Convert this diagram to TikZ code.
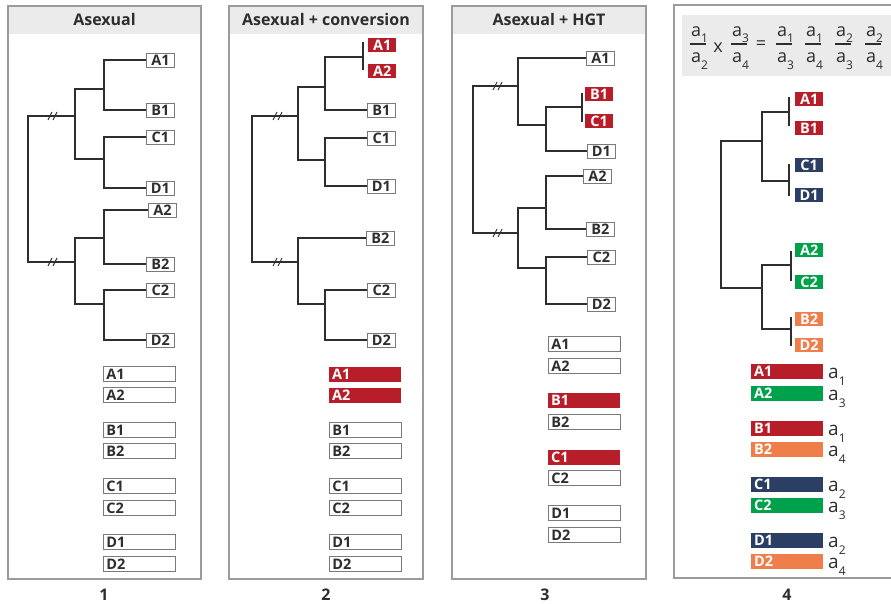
\documentclass[tikz,border=0pt]{standalone}
\usepackage{fontspec}
\setmainfont{Open Sans}
\usetikzlibrary{calc}
\definecolor{cred}{HTML}{B81D2A}
\definecolor{cblue}{HTML}{2B3F64}
\definecolor{cgreen}{HTML}{00A14B}
\definecolor{corange}{HTML}{F07E4B}
\definecolor{framec}{HTML}{9B9B9B}
\definecolor{hdr}{HTML}{EBEBEB}
\definecolor{ink}{HTML}{2E2E2E}
\definecolor{bord}{HTML}{7A7A7A}
\newcommand\slashmark[2]{\draw[ink,line width=0.9pt] ({#1-4},{#2+4}) -- ({#1},{#2-4}) ({#1+1},{#2+4}) -- ({#1+5},{#2-4});}
\newcommand\asub[2]{a\raisebox{-#2pt}{\fontsize{12}{12}\selectfont #1}}
\newcommand\efrac[4]{%
  \node[eqa, anchor=base west] (#1n) at (#2,37) {\asub{#3}{6}};
  \node[eqa, anchor=base west] (#1d) at (#2,63) {\asub{#4}{7}};
  \draw[ink, line width=1.1pt] ({#2-1},44) -- ({#2+15},44);}
\begin{document}
\begin{tikzpicture}[x=1pt,y=-1pt,
  tree/.style={draw=ink, line width=1.4pt},
  lbl/.style={inner sep=0pt, minimum width=28pt, minimum height=14pt, font=\fontsize{14.5}{16}\selectfont\bfseries, text height=10.3pt, text depth=0pt, anchor=west},
  wbox/.style={lbl, draw=bord, line width=0.9pt, fill=white, text=ink},
  cbox/.style={lbl, fill=#1, text=white},
  barb/.style={inner xsep=3pt, inner ysep=0pt, text width=66pt, minimum height=15pt, align=left, font=\fontsize{14.5}{16}\selectfont\bfseries, text height=10.3pt, text depth=0pt, anchor=west},
  wbar/.style={barb, draw=bord, line width=0.9pt, fill=white, text=ink},
  cbar/.style={barb, fill=#1, text=white},
  title/.style={font=\fontsize{16}{18}\selectfont\bfseries, text=ink},
  num/.style={font=\fontsize{16}{18}\selectfont\bfseries, text=ink},
  eqa/.style={inner sep=0pt, font=\fontsize{18}{20}\selectfont, text=ink},
  alab/.style={inner sep=0pt, font=\fontsize{19}{21}\selectfont, text=ink, anchor=base west},
  panel/.style={draw=framec, line width=1.3pt}
]
\useasboundingbox (0,0) rectangle (891,604);
\fill[white] (0,0) rectangle (891,604);

% ---------- frames and headers ----------
\fill[hdr] (8,6) rectangle (201,34);
\fill[hdr] (229,6) rectangle (423,34);
\fill[hdr] (452,6) rectangle (646,34);
\fill[hdr] (682,15) rectangle (895,76);
\draw[panel] (8,6) rectangle (201,579);
\draw[panel] (229,6) rectangle (423,579);
\draw[panel] (452,6) rectangle (646,579);
\draw[panel] (895,5) -- (674,5) -- (674,578) -- (895,578);

\node[title] (t1) at (104.5,20) {Asexual};
\node[title] (t2) at (326,20) {Asexual + conversion};
\node[title] (t3) at (549,20) {Asexual + HGT};
\node[num] (n1) at (104,595) {1};
\node[num] (n2) at (326,595) {2};
\node[num] (n3) at (545,595) {3};
\node[num] (n4) at (787,595) {4};

% ---------- panel 1 ----------
\node[wbox] (p1A1) at (146,60) {A1};
\node[wbox] (p1B1) at (146,110) {B1};
\node[wbox] (p1C1) at (146,137) {C1};
\node[wbox] (p1D1) at (146,188) {D1};
\node[wbox] (p1A2) at (148,210) {A2};
\node[wbox] (p1B2) at (146,264) {B2};
\node[wbox] (p1C2) at (146,290) {C2};
\node[wbox] (p1D2) at (146,340) {D2};
\coordinate (p1j1) at (104,89);
\coordinate (p1j2) at (104,159);
\coordinate (p1j3) at (75,116);
\coordinate (p1j4) at (104,238);
\coordinate (p1j5) at (104,304);
\coordinate (p1j6) at (75,262);
\coordinate (p1r) at (28,190);
\draw[tree] (p1A1.west) -| (p1j1) |- (p1B1.west);
\draw[tree] (p1C1.west) -| (p1j2) |- (p1D1.west);
\draw[tree] (p1j1) -| (p1j3) |- (p1j2);
\draw[tree] (p1A2.west) -| (p1j4) |- (p1B2.west);
\draw[tree] (p1C2.west) -| (p1j5) |- (p1D2.west);
\draw[tree] (p1j4) -| (p1j6) |- (p1j5);
\draw[tree] (p1j3) -| (p1r) |- (p1j6);
\slashmark{52}{116}
\slashmark{52}{262}

\node[wbar] (p1bA1) at (103,374) {A1};
\node[wbar] (p1bA2) at (103,395) {A2};
\node[wbar] (p1bB1) at (103,430) {B1};
\node[wbar] (p1bB2) at (103,451) {B2};
\node[wbar] (p1bC1) at (103,486) {C1};
\node[wbar] (p1bC2) at (103,508) {C2};
\node[wbar] (p1bD1) at (103,542) {D1};
\node[wbar] (p1bD2) at (103,564) {D2};

% ---------- panel 2 ----------
\node[cbox=cred] (p2A1) at (368,45) {A1};
\node[cbox=cred] (p2A2) at (368,71) {A2};
\node[wbox] (p2B1) at (367,110) {B1};
\node[wbox] (p2C1) at (367,138) {C1};
\node[wbox] (p2D1) at (367,186) {D1};
\node[wbox] (p2B2) at (366,238) {B2};
\node[wbox] (p2C2) at (367,290) {C2};
\node[wbox] (p2D2) at (367,340) {D2};
\coordinate (p2tt) at (363,42);
\coordinate (p2tb) at (363,70);
\coordinate (p2tm) at (363,57);
\coordinate (p2j1) at (325,87);
\coordinate (p2j2) at (325,160);
\coordinate (p2j3) at (298,116);
\coordinate (p2j5) at (325,304);
\coordinate (p2j6) at (298,262);
\coordinate (p2r) at (252,190);
\draw[tree] (p2tt) -- (p2tb);
\draw[tree] (p2tm) -| (p2j1) |- (p2B1.west);
\draw[tree] (p2C1.west) -| (p2j2) |- (p2D1.west);
\draw[tree] (p2j1) -| (p2j3) |- (p2j2);
\draw[tree] (p2C2.west) -| (p2j5) |- (p2D2.west);
\draw[tree] (p2B2.west) -| (p2j6) |- (p2j5);
\draw[tree] (p2j3) -| (p2r) |- (p2j6);
\slashmark{277}{116}
\slashmark{277}{262}

\node[cbar=cred] (p2bA1) at (329,374) {A1};
\node[cbar=cred] (p2bA2) at (329,395) {A2};
\node[wbar] (p2bB1) at (329,430) {B1};
\node[wbar] (p2bB2) at (329,451) {B2};
\node[wbar] (p2bC1) at (329,486) {C1};
\node[wbar] (p2bC2) at (329,508) {C2};
\node[wbar] (p2bD1) at (329,542) {D1};
\node[wbar] (p2bD2) at (329,564) {D2};

% ---------- panel 3 ----------
\node[wbox] (p3A1) at (586,58) {A1};
\node[cbox=cred] (p3B1) at (585,94) {B1};
\node[cbox=cred] (p3C1) at (585,121) {C1};
\node[wbox] (p3D1) at (587,151) {D1};
\node[wbox] (p3A2) at (583,176) {A2};
\node[wbox] (p3B2) at (586,229) {B2};
\node[wbox] (p3C2) at (587,257) {C2};
\node[wbox] (p3D2) at (587,304) {D2};
\coordinate (p3tt) at (582,93);
\coordinate (p3tb) at (582,122);
\coordinate (p3tm) at (582,107);
\coordinate (p3j1) at (546,125);
\coordinate (p3j3) at (518,86);
\coordinate (p3j4) at (546,208);
\coordinate (p3j5) at (546,268);
\coordinate (p3j6) at (518,233);
\coordinate (p3r) at (473,160);
\draw[tree] (p3tt) -- (p3tb);
\draw[tree] (p3tm) -| (p3j1) |- (p3D1.west);
\draw[tree] (p3A1.west) -| (p3j3) |- (p3j1);
\draw[tree] (p3A2.west) -| (p3j4) |- (p3B2.west);
\draw[tree] (p3C2.west) -| (p3j5) |- (p3D2.west);
\draw[tree] (p3j4) -| (p3j6) |- (p3j5);
\draw[tree] (p3j3) -| (p3r) |- (p3j6);
\slashmark{497}{86}
\slashmark{497}{233}

\node[wbar] (p3bA1) at (548,344) {A1};
\node[wbar] (p3bA2) at (548,366) {A2};
\node[cbar=cred] (p3bB1) at (548,400) {B1};
\node[wbar] (p3bB2) at (548,422) {B2};
\node[cbar=cred] (p3bC1) at (548,457) {C1};
\node[wbar] (p3bC2) at (548,478) {C2};
\node[wbar] (p3bD1) at (548,513) {D1};
\node[wbar] (p3bD2) at (548,535) {D2};

% ---------- panel 4 ----------
\efrac{f1}{691}{1}{2}
\node[eqa] (fx) at (718,48) {x};
\efrac{f2}{732}{3}{4}
\node[eqa] (feq) at (761,45) {=};
\efrac{f3}{777}{1}{3}
\efrac{f4}{806}{1}{4}
\efrac{f5}{836}{2}{3}
\efrac{f6}{866}{2}{4}

\node[cbox=cred] (p4A1) at (795,99) {A1};
\node[cbox=cred] (p4B1) at (795,128) {B1};
\node[cbox=cblue] (p4C1) at (795,165) {C1};
\node[cbox=cblue] (p4D1) at (795,195) {D1};
\node[cbox=cgreen] (p4A2) at (795,250) {A2};
\node[cbox=cgreen] (p4C2) at (795,282) {C2};
\node[cbox=corange] (p4B2) at (795,319) {B2};
\node[cbox=corange] (p4D2) at (795,345) {D2};
\coordinate (p4t1) at (789,112);
\coordinate (p4t2) at (789,181);
\coordinate (p4t3) at (791,265);
\coordinate (p4t4) at (791,329);
\coordinate (p4j1) at (762,141);
\coordinate (p4j2) at (762,288);
\coordinate (p4r) at (721,200);
\draw[tree] (789,97) -- (789,126);
\draw[tree] (789,164) -- (789,196);
\draw[tree] (791,251) -- (791,281);
\draw[tree] (791,317) -- (791,346);
\draw[tree] (p4t1) -| (p4j1) |- (p4t2);
\draw[tree] (p4t3) -| (p4j2) |- (p4t4);
\draw[tree] (p4j1) -| (p4r) |- (p4j2);

\node[cbar=cred] (p4bA1) at (751,371) {A1};
\node[cbar=cgreen] (p4bA2) at (751,393) {A2};
\node[cbar=cred] (p4bB1) at (751,428) {B1};
\node[cbar=corange] (p4bB2) at (751,449) {B2};
\node[cbar=cblue] (p4bC1) at (751,484) {C1};
\node[cbar=cgreen] (p4bC2) at (751,505) {C2};
\node[cbar=cblue] (p4bD1) at (751,540) {D1};
\node[cbar=corange] (p4bD2) at (751,561) {D2};
\node[alab] (p4aA1) at (828,378) {\asub{1}{7}};
\node[alab] (p4aA2) at (828,400) {\asub{3}{7}};
\node[alab] (p4aB1) at (828,435) {\asub{1}{7}};
\node[alab] (p4aB2) at (828,456) {\asub{4}{7}};
\node[alab] (p4aC1) at (828,491) {\asub{2}{7}};
\node[alab] (p4aC2) at (828,512) {\asub{3}{7}};
\node[alab] (p4aD1) at (828,547) {\asub{2}{7}};
\node[alab] (p4aD2) at (828,568) {\asub{4}{7}};
\end{tikzpicture}
\end{document}
